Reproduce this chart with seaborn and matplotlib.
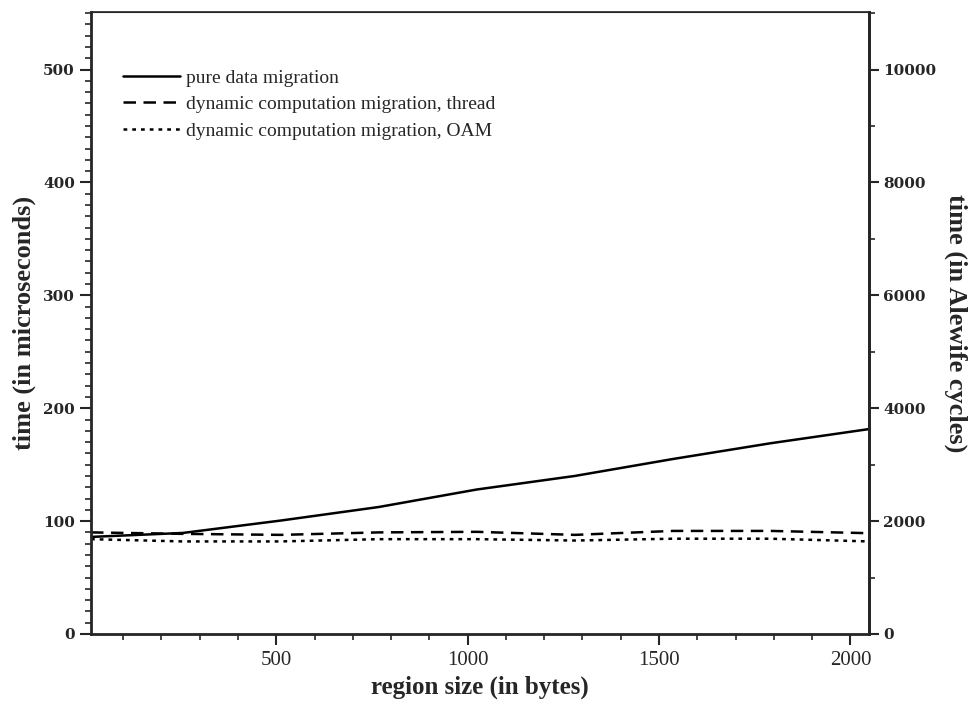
import numpy as np
import pandas as pd
import seaborn as sns
import matplotlib.pyplot as plt
from matplotlib.ticker import MultipleLocator

# region sizes (bytes) and times (microseconds)
region_size = [16, 256, 512, 768, 1024, 1280, 1536, 1792, 2048]
pure_data = [86, 89.5, 100.5, 112.5, 128, 140, 155, 169, 181.5]
dyn_thread = [90, 88.7, 87.8, 90, 90.5, 87.8, 91.3, 91.3, 89.3]
dyn_oam = [84, 82, 82, 84, 84, 82.8, 84.4, 84.4, 82]

labels = ["pure data migration",
          "dynamic computation migration, thread",
          "dynamic computation migration, OAM"]
styles = ["-", (0, (5, 3)), (0, (1.5, 2))]
cycles_per_us = 20  # 500 us = 10000 cycles

df = pd.DataFrame({
    "size": region_size * 3,
    "time": pure_data + dyn_thread + dyn_oam,
    "series": np.repeat(labels, len(region_size)),
})

sns.set_style("ticks")
plt.rcParams["font.family"] = ["Liberation Serif", "DejaVu Serif"]

fig = plt.figure(figsize=(9.74, 7.06), dpi=100)
ax = fig.add_axes([0.0934, 0.102, 0.7986, 0.881])

for lab, ls in zip(labels, styles):
    sub = df[df["series"] == lab]
    sns.lineplot(data=sub, x="size", y="time", ax=ax, color="black",
                 linewidth=1.8, label=lab, linestyle=ls)

ax.set_xlim(16, 2048)
ax.set_ylim(0, 551)
ax.xaxis.set_major_locator(MultipleLocator(500))
ax.xaxis.set_minor_locator(MultipleLocator(100))
ax.yaxis.set_major_locator(MultipleLocator(100))
ax.yaxis.set_minor_locator(MultipleLocator(10))
ax.tick_params(which="major", direction="out", length=8, width=1.5)
ax.tick_params(which="minor", direction="out", length=4, width=1.2)
ax.tick_params(axis="x", labelsize=15, pad=4)
for lbl in ax.get_yticklabels():
    lbl.set_fontfamily("DejaVu Serif")
    lbl.set_fontweight("bold")
    lbl.set_fontsize(11)

for side in ["left", "bottom", "right"]:
    ax.spines[side].set_linewidth(2)
ax.spines["top"].set_linewidth(1.2)

ax.set_xlabel("region size (in bytes)", fontsize=18, fontweight="bold", labelpad=4)
ax.set_ylabel("time (in microseconds)", fontsize=19, fontweight="bold", labelpad=5)

ax2 = ax.twinx()
ax2.set_ylim(0, 551 * cycles_per_us)
ax2.yaxis.set_major_locator(MultipleLocator(2000))
ax2.yaxis.set_minor_locator(MultipleLocator(1000))
ax2.tick_params(which="major", direction="out", length=7, width=1.5, labelsize=11)
ax2.tick_params(which="minor", direction="out", length=4, width=1.2)
for lbl in ax2.get_yticklabels():
    lbl.set_fontfamily("DejaVu Serif")
    lbl.set_fontweight("bold")
ax2.spines["right"].set_linewidth(2)
ax2.set_ylabel("time (in Alewife cycles)", fontsize=19, fontweight="bold",
               rotation=270, labelpad=22)

leg = ax.legend(loc="upper left", bbox_to_anchor=(0.019, 0.936), frameon=False,
                fontsize=14, handlelength=2.9, handletextpad=0.35, labelspacing=0.45)

fig.savefig("out.png", dpi=100)
